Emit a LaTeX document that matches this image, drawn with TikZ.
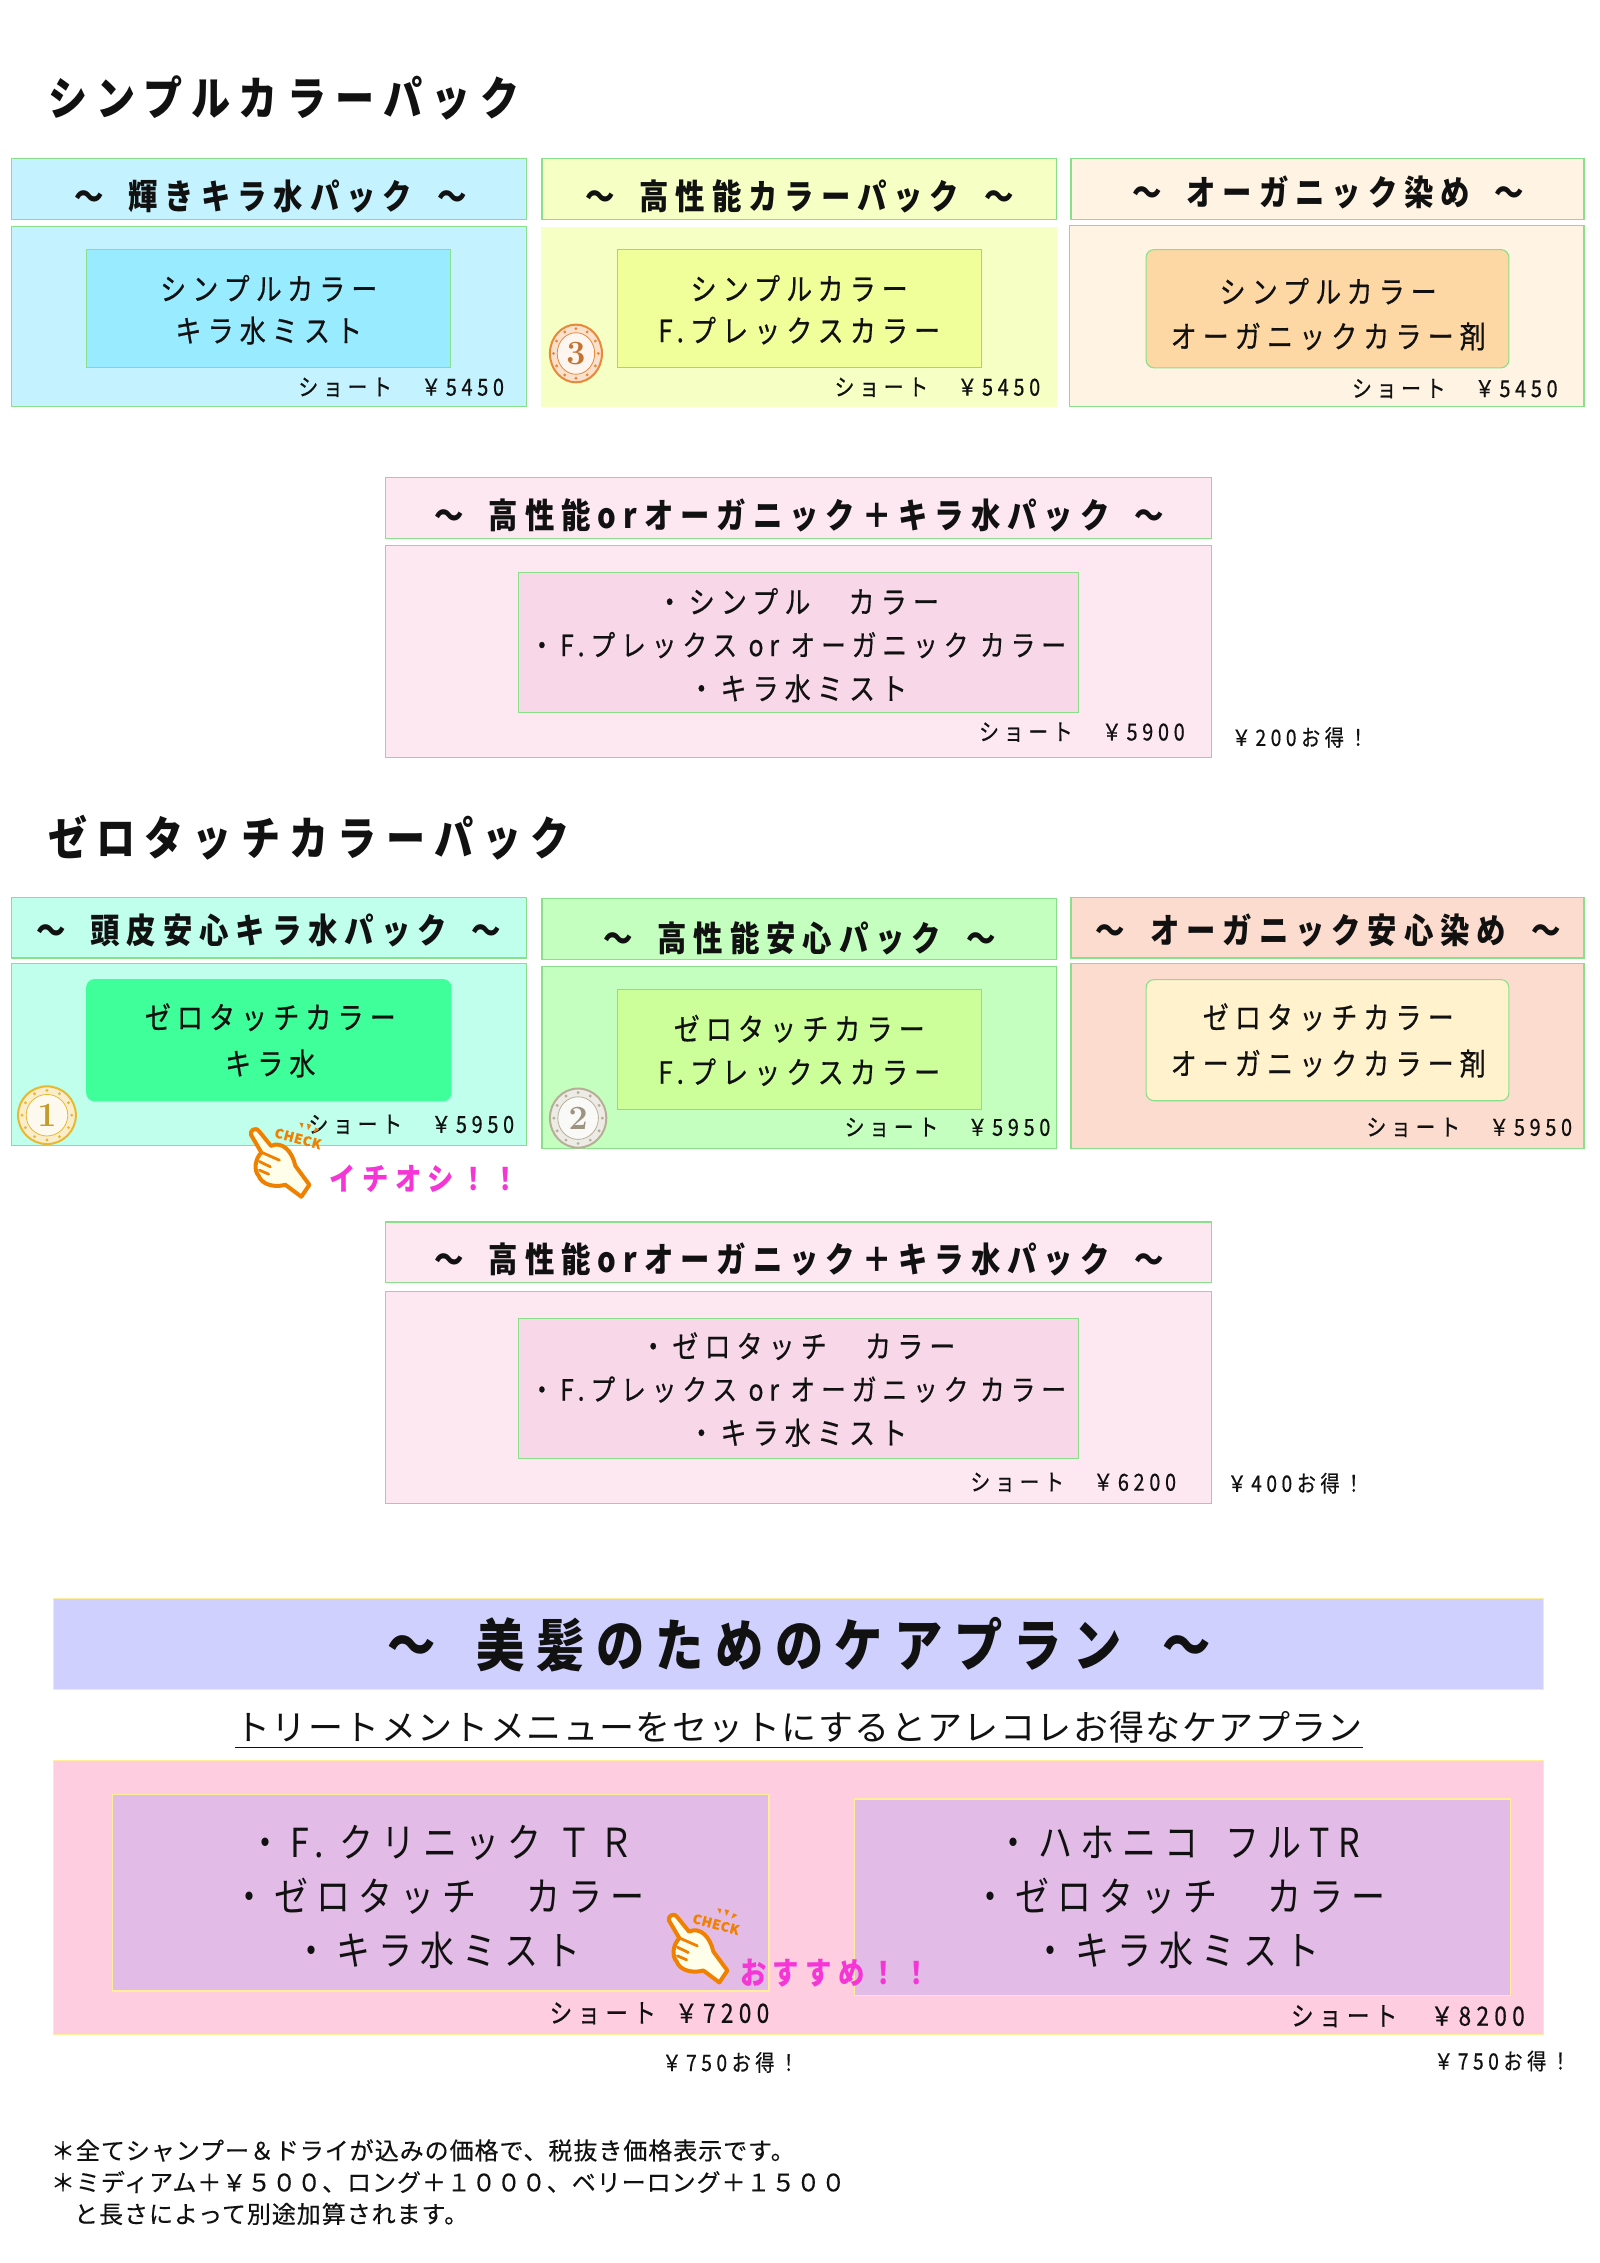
\documentclass[tikz,border=0pt]{standalone}
\usepackage{fontspec}
\newfontfamily\jp[FakeStretch=0.85,LetterSpace=20]{Noto Sans CJK JP}
\newfontfamily\jpm[FakeStretch=0.85,LetterSpace=20,FakeBold=0.5]{Noto Sans CJK JP}
\newfontfamily\jpw[LetterSpace=4,FakeBold=0.3]{Noto Sans CJK JP}
\newfontfamily\jpc[LetterSpace=4]{Noto Sans CJK JP}
\newcommand{\hgap}{\hspace{0.72em}}
\definecolor{edgeg}{HTML}{8ADF8A}
\definecolor{edgey}{HTML}{FFEE99}
\definecolor{ink}{HTML}{111111}
\definecolor{hot}{HTML}{F535D5}
\definecolor{handor}{HTML}{F08000}
\definecolor{aone}{HTML}{C4F3FF}\definecolor{aonein}{HTML}{99EBFF}
\definecolor{atwo}{HTML}{F6FFC4}\definecolor{atwoin}{HTML}{F0FF99}
\definecolor{athree}{HTML}{FFF3E3}\definecolor{athreein}{HTML}{FDD8A5}
\definecolor{pinkb}{HTML}{FDE8F2}\definecolor{pinkin}{HTML}{F8D8E8}
\definecolor{cone}{HTML}{BFFFEC}\definecolor{conein}{HTML}{3FFF9A}
\definecolor{ctwo}{HTML}{C4FFC0}\definecolor{ctwoin}{HTML}{CCFF99}
\definecolor{cthree}{HTML}{FBDCCF}\definecolor{cthreein}{HTML}{FFF2CC}
\definecolor{carehead}{HTML}{D0D0FF}\definecolor{carebody}{HTML}{FFCCE0}\definecolor{carein}{HTML}{E2BCE6}
\definecolor{gold}{HTML}{E8B830}\definecolor{silver}{HTML}{B8AE98}\definecolor{copper}{HTML}{E88838}
\tikzset{
  panel/.style={draw=edgeg,line width=0.55pt},
  carepanel/.style={draw=edgey,line width=0.6pt},
  lbl/.style={inner sep=0,text=ink,text height=#1*0.85pt,text depth=#1*0.08pt},
  bigtitle/.style={lbl=23,anchor=west,font=\jp\bfseries\fontsize{23}{23}\selectfont},
  headtxt/.style={lbl=17.3,font=\jp\bfseries\fontsize{17.3}{17}\selectfont},
  innertxt/.style={lbl=15.3,font=\jpm\fontsize{15.3}{15}\selectfont},
  innerwide/.style={lbl=14.6,font=\jpm\fontsize{14.6}{15}\selectfont},
  pricetxt/.style={lbl=11.7,anchor=east,font=\jpm\fontsize{11.7}{12}\selectfont},
  savetxt/.style={lbl=11.3,anchor=west,font=\jpm\fontsize{11.3}{12}\selectfont},
  caretitle/.style={lbl=28.4,font=\jp\bfseries\fontsize{28.4}{28}\selectfont},
  caresub/.style={lbl=17.5,font=\jpc\fontsize{17.5}{18}\selectfont},
  caretxt/.style={lbl=20,font=\jp\fontsize{20}{20}\selectfont},
  carepr/.style={lbl=13.3,anchor=west,font=\jpm\fontsize{13.3}{13}\selectfont},
  foot/.style={lbl=12,anchor=west,font=\jpw\fontsize{12}{12}\selectfont},
  shout/.style={lbl=15.5,text=hot,anchor=west,font=\jp\bfseries\fontsize{15.5}{16}\selectfont},
  checktxt/.style={inner sep=0,text=handor,font=\jpw\bfseries\fontsize{6.6}{7}\selectfont},
}
\newcommand{\coin}[7]{% name x y rx ry colour digit
  \fill[#6!25!white] (#2,#3) ellipse ({#4} and {#5});
  \draw[#6,line width=1pt] (#2,#3) ellipse ({#4} and {#5});
  \draw[#6,line width=0.4pt,fill=#6!8!white] (#2,#3) ellipse ({#4*0.72} and {#5*0.72});
  \foreach \a in {0,30,...,330}{\fill[#6] ({#2+#4*0.86*cos(\a)},{#3+#5*0.86*sin(\a)}) circle (1.1);}
  \node[inner sep=0,text=#6!85!black,font=\fontsize{17}{17}\selectfont\bfseries] (#1) at (#2,#3) {#7};
}
\newcommand{\handicon}[3]{% name x y
  \begin{scope}[shift={(#2,#3)},scale=0.2306]
    \draw[handor,line width=2pt,fill=white!92!yellow,line join=round]
      (147,132) .. controls (142,120) and (160,105) .. (172,122)
      -- (207,165) .. controls (240,150) and (270,180) .. (280,225)
      -- (322,282) -- (298,318) -- (250,282)
      .. controls (215,292) and (178,280) .. (170,255)
      .. controls (155,240) and (158,205) .. (178,185) -- cycle;
    \draw[handor,line width=1.4pt,line cap=round] (180,185) -- (232,208) (172,212) -- (205,228) (172,238) -- (200,250);
    \fill[handor] (292,95) -- (304,97) -- (300,112) -- cycle (315,98) -- (328,102) -- (318,118) -- cycle (340,110) -- (352,116) -- (334,126) -- cycle;
    \node[checktxt,rotate=-15] (#1) at (288,143) {CHECK};
  \end{scope}
}
\begin{document}
\begin{tikzpicture}[x=0.72267pt,y=-0.72137pt]
\useasboundingbox (0,0) rectangle (1107,1568.6);
\fill[white] (0,0) rectangle (1107,1568.6);
% --- section 1
\node[bigtitle] (t1) at (33,68) {シンプルカラーパック};
\path[panel,fill=aone] (8,110) rectangle (364,152);
\path[panel,fill=aone] (8,157) rectangle (364,282);
\path[panel,fill=aonein] (60,173) rectangle (312,255);
\node[headtxt] (h1) at (187,136) {～\hgap 輝きキラ水パック\hgap ～};
\node[innertxt] (i1a) at (186,200) {シンプルカラー};
\node[innertxt] (i1b) at (186,229) {キラ水ミスト};
\node[pricetxt] (p1) at (349,268) {ショート　￥5450};

\path[panel,fill=atwo] (375,110) rectangle (731,152);
\fill[atwo] (374,157) rectangle (731,282);
\path[panel,fill=atwoin] (427,173) rectangle (679,255);
\node[headtxt] (h2) at (553,136) {～\hgap 高性能カラーパック\hgap ～};
\node[innertxt] (i2a) at (553,200) {シンプルカラー};
\node[innertxt] (i2b) at (553,229) {F.プレックスカラー};
\node[pricetxt] (p2) at (720,268) {ショート　￥5450};
\coin{c3}{398.5}{245}{18}{20}{copper}{3}

\path[panel,fill=athree] (741,110) rectangle (1096,152);
\path[panel,fill=athree] (740,156) rectangle (1096,282);
\path[panel,fill=athreein,rounded corners=4] (793,173) rectangle (1044,255);
\node[headtxt] (h3) at (919,133) {～\hgap オーガニック染め\hgap ～};
\node[innertxt] (i3a) at (919,202) {シンプルカラー};
\node[innertxt] (i3b) at (919,233) {オーガニックカラー剤};
\node[pricetxt] (p3) at (1078,269) {ショート　￥5450};

\path[panel,fill=pinkb] (267,331) rectangle (838,373);
\path[panel,fill=pinkb] (267,378) rectangle (838,525);
\path[panel,fill=pinkin] (359,397) rectangle (746,494);
\node[headtxt] (h4) at (553,357) {～\hgap 高性能orオーガニック＋キラ水パック\hgap ～};
\node[innertxt] (i4a) at (552,417) {・シンプル　カラー};
\node[innerwide] (i4b) at (552,447) {・F.プレックス or オーガニック カラー};
\node[innertxt] (i4c) at (552,477) {・キラ水ミスト};
\node[pricetxt] (p4) at (820,507) {ショート　￥5900};
\node[savetxt] (s4) at (852,511) {￥200お得！};

% --- section 2
\node[bigtitle] (t2) at (33,581) {ゼロタッチカラーパック};
\path[panel,fill=cone] (8,622) rectangle (364,664);
\path[panel,fill=cone] (8,668) rectangle (364,794);
\path[draw=conein,line width=0.55pt,fill=conein,rounded corners=4] (60,679) rectangle (312,763);
\node[headtxt] (h5) at (186,645) {～\hgap 頭皮安心キラ水パック\hgap ～};
\node[innertxt] (i5a) at (187,705) {ゼロタッチカラー};
\node[innertxt] (i5b) at (187,737) {キラ水};
\node[pricetxt] (p5) at (356,779) {ショート　￥5950};
\coin{c1}{32.5}{773}{20}{20}{gold}{1}

\path[panel,fill=ctwo] (375,623) rectangle (731,665);
\path[panel,fill=ctwo] (375,670) rectangle (731,796);
\path[panel,fill=ctwoin] (427,686) rectangle (679,769);
\node[headtxt] (h6) at (553,650) {～\hgap 高性能安心パック\hgap ～};
\node[innertxt] (i6a) at (553,713) {ゼロタッチカラー};
\node[innertxt] (i6b) at (553,743) {F.プレックスカラー};
\node[pricetxt] (p6) at (727,781) {ショート　￥5950};
\coin{c2}{400}{775}{19.5}{20.5}{silver}{2}

\path[panel,fill=cthree] (741,622) rectangle (1096,664);
\path[panel,fill=cthree] (741,668) rectangle (1096,796);
\path[panel,fill=cthreein,rounded corners=4] (793,679) rectangle (1044,763);
\node[headtxt] (h7) at (919,645) {～\hgap オーガニック安心染め\hgap ～};
\node[innertxt] (i7a) at (919,705) {ゼロタッチカラー};
\node[innertxt] (i7b) at (919,737) {オーガニックカラー剤};
\node[pricetxt] (p7) at (1088,781) {ショート　￥5950};

\handicon{ck1}{139.8}{756.2}
\node[shout] (sh1) at (228,817) {イチオシ！！};

\path[panel,fill=pinkb] (267,847) rectangle (838,889);
\path[panel,fill=pinkb] (267,895) rectangle (838,1042);
\path[panel,fill=pinkin] (359,914) rectangle (746,1011);
\node[headtxt] (h8) at (553,873) {～\hgap 高性能orオーガニック＋キラ水パック\hgap ～};
\node[innertxt] (i8a) at (552,933) {・ゼロタッチ　カラー};
\node[innerwide] (i8b) at (552,963) {・F.プレックス or オーガニック カラー};
\node[innertxt] (i8c) at (552,993) {・キラ水ミスト};
\node[pricetxt] (p8) at (814,1027) {ショート　￥6200};
\node[savetxt] (s8) at (849,1028) {￥400お得！};

% --- care plan
\path[carepanel,fill=carehead] (37,1108) rectangle (1068,1171);
\node[caretitle] (ct) at (553,1140) {～\hgap 美髪のためのケアプラン\hgap ～};
\node[caresub] (cs) at (553,1197) {トリートメントメニューをセットにするとアレコレお得なケアプラン};
\draw[ink,line width=0.7pt] ([yshift=-2pt]cs.south west) -- ([yshift=-2pt]cs.south east);
\path[carepanel,fill=carebody] (37,1220) rectangle (1068,1410);
\path[carepanel,fill=carein] (78,1244) rectangle (532,1380);
\path[carepanel,fill=carein] (591,1247) rectangle (1045,1383);
\node[caretxt] (l1) at (305,1277) {・F.\hspace{0.4em}クリニック\hspace{0.4em}ＴＲ};
\node[caretxt] (l2) at (303.5,1314) {・ゼロタッチ　カラー};
\node[caretxt] (l3) at (302.5,1352) {・キラ水ミスト};
\node[caretxt] (r1) at (815,1277) {・ハホニコ\hspace{0.3em} フルTR};
\node[caretxt] (r2) at (816,1314) {・ゼロタッチ　カラー};
\node[caretxt] (r3) at (814,1352) {・キラ水ミスト};
\node[carepr] (pl) at (380,1395) {ショート\hspace{0.33em} ￥7200};
\node[carepr] (pr) at (893,1397) {ショート　￥8200};
\node[savetxt] (sl) at (458,1429.5) {￥750お得！};
\node[savetxt] (sr) at (992,1428.5) {￥750お得！};
\handicon{ck2}{429}{1300.8}
\node[shout] (sh2) at (512,1367) {おすすめ！！};

% --- footnotes
\node[foot] (f1) at (35,1490.5) {＊全てシャンプー＆ドライが込みの価格で、税抜き価格表示です。};
\node[foot] (f2) at (35,1512.5) {＊ミディアム＋￥５００、ロング＋１０００、ベリーロング＋１５００};
\node[foot] (f3) at (51,1534.5) {と長さによって別途加算されます。};
\end{tikzpicture}
\end{document}
